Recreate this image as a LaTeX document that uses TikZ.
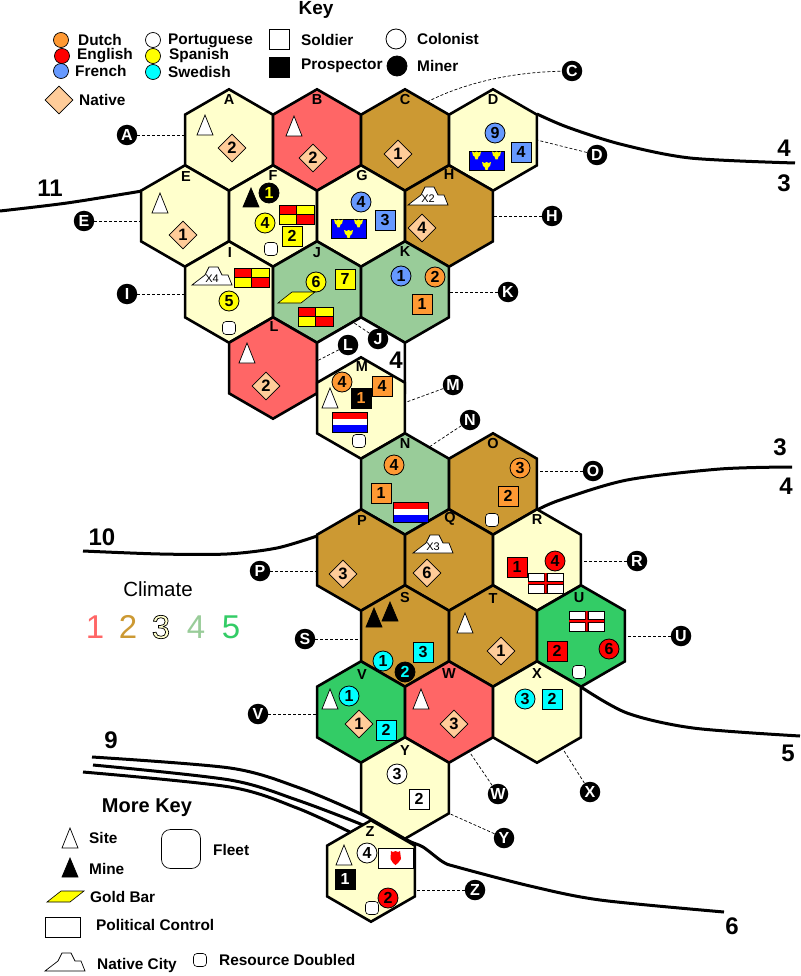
\documentclass[tikz,border=0pt]{standalone}
\usepackage{fontspec}
\setmainfont{Liberation Sans}
\usetikzlibrary{shapes.geometric}

\definecolor{cPale}{HTML}{FFFFCC}
\definecolor{cRed}{HTML}{FF6666}
\definecolor{cBrown}{HTML}{CC9933}
\definecolor{cSage}{HTML}{99CC99}
\definecolor{cGreen}{HTML}{33CC66}
\definecolor{cOrange}{HTML}{FF9933}
\definecolor{cBlue}{HTML}{6699FF}
\definecolor{cPeach}{HTML}{FFCC99}
\definecolor{cRoyal}{HTML}{0000FF}
\definecolor{cYellow}{HTML}{FFFF00}
\definecolor{cCyan}{HTML}{00FFFF}

\newcommand{\fsz}[1]{\fontsize{#1}{#1}\selectfont}

\tikzset{
  hex/.style={regular polygon, regular polygon sides=6, shape border rotate=30, draw, line width=2.6pt,
    minimum size=101.4pt, inner sep=0pt, outer sep=0pt, fill=#1},
  hexl/.style={inner sep=0pt, font=\fsz{14.5}\bfseries},
  tok/.style={circle, draw, line width=.8pt, fill=#1, minimum size=20pt, inner sep=0pt, font=\fsz{16}\bfseries},
  sq/.style={rectangle, draw, line width=.9pt, fill=#1, minimum size=20pt, inner sep=0pt, font=\fsz{16}\bfseries},
  nat/.style={diamond, draw, line width=.6pt, fill=cPeach, minimum size=28pt, inner sep=0pt, font=\fsz{16.5}\bfseries},
  res/.style={rectangle, rounded corners=3.5pt, draw, line width=.6pt, fill=white, minimum size=13pt, inner sep=0pt},
  tag/.style={circle, fill=black, text=white, minimum size=20.5pt, inner sep=0pt, font=\fsz{16}\bfseries},
  keytxt/.style={anchor=west, inner sep=0pt, font=\fsz{15.4}\bfseries},
  keydot/.style={circle, draw, line width=.7pt, fill=#1, minimum size=15pt, inner sep=0pt},
  big/.style={inner sep=0pt, font=\fsz{24}\bfseries},
  clim/.style={inner sep=0pt, text=#1, font=\fsz{33}},
  citytxt/.style={inner sep=0pt, font=\fsz{11}},
  lead/.style={line width=.7pt, dash pattern=on 3pt off 2pt},
  frontier/.style={line width=3pt, line join=round},
  site/.pic={\draw[fill=white, line width=.7pt] (-8,20) -- (0,0) -- (8,20) -- cycle;},
  mine/.pic={\draw[fill=black, line width=.7pt] (-8,19) -- (0,0) -- (8,19) -- cycle;},
  bar/.pic={\draw[fill=cYellow, line width=.6pt] (14,0) -- (37,0) -- (23,11) -- (0,11) -- cycle;},
  city/.pic={\draw[fill=white, line width=.7pt] (0,18) -- (13,8) -- (17,0) -- (26,0) -- (30,8) -- (36,8) -- (40,18) -- cycle;},
  spain/.pic={
    \fill[cYellow] (0,0) rectangle (35,19);
    \fill[red] (0,0) rectangle (17.5,9.5);
    \fill[red] (17.5,9.5) rectangle (35,19);
    \draw[line width=.9pt] (0,0) rectangle (35,19) (17.5,0) -- (17.5,19) (0,9.5) -- (35,9.5);},
  dutch/.pic={
    \fill[red] (0,0) rectangle (35,6.5);
    \fill[white] (0,6.5) rectangle (35,13);
    \fill[cRoyal] (0,13) rectangle (35,20);
    \draw[line width=.9pt] (0,0) rectangle (35,20);},
  england/.pic={
    \draw[fill=white, line width=.9pt] (0,0) rectangle (35,20);
    \draw[line width=4pt] (0,10) -- (35,10) (17.5,0) -- (17.5,20);
    \fill[red] (0,9) rectangle (35,11) (16.5,0) rectangle (18.5,20);},
  crown/.pic={\fill[cYellow] (-4.5,-4) -- (-2,-3) -- (0,-4) -- (2,-3) -- (4.5,-4) -- (3.5,0) -- (2,1) -- (1,4) -- (-1,4) -- (-2,1) -- (-3.5,0) -- cycle;},
  france/.pic={
    \draw[fill=cRoyal, line width=.9pt] (0,0) rectangle (35,19.5);
    \pic at (7.5,4.5) {crown};
    \pic at (27.5,4.5) {crown};
    \pic at (17.5,15) {crown};},
  fleet/.pic={
    \draw[fill=white, line width=.9pt] (0,0) rectangle (35,20);
    \fill[red] (13,3) -- (15,4) -- (17.5,3) -- (20,4) -- (22,3) -- (23,11) -- (20,15) -- (17.5,17) -- (15,15) -- (12.5,11) -- cycle;},
}

\begin{document}
\begin{tikzpicture}[x=1pt, y=-1pt]
  \useasboundingbox (0,0) rectangle (800,976);

  \draw[frontier] plot[smooth] coordinates {(537,114) (567,127) (620,144) (690,158) (795,163)};
  \draw[frontier] plot[smooth] coordinates {(0,211) (67,203) (142,191)};
  \draw[frontier] plot[smooth] coordinates {(537,510) (560,500) (627,480) (720,469) (792,467)};
  \draw[frontier] plot[smooth] coordinates {(83,551) (160,554) (227,554) (277,548) (317,536)};
  \draw[frontier] plot[smooth] coordinates {(581,687) (627,713) (693,728) (800,736)};
  \draw[frontier] plot[smooth] coordinates {(92,757) (230,768) (297,787) (363,815) (407,840) (423,847) (443,862) (457,867) (530,886) (600,900) (724,912)};
  \draw[frontier] plot[smooth] coordinates {(93,765) (230,780) (297,800) (363,825) (372,831)};
  \draw[frontier] plot[smooth] coordinates {(83,772) (230,787) (297,808) (350,832)};

  \node[hex=cPale] (hexA) at (229,140) {};
  \node[hex=cRed] (hexB) at (317,140) {};
  \node[hex=cBrown] (hexC) at (405,140) {};
  \node[hex=cPale] (hexD) at (493,140) {};
  \node[hex=cPale] (hexE) at (185,216) {};
  \node[hex=cPale] (hexF) at (273,216) {};
  \node[hex=cPale] (hexG) at (361,216) {};
  \node[hex=cBrown] (hexH) at (449,216) {};
  \node[hex=cPale] (hexI) at (229,292) {};
  \node[hex=cSage] (hexJ) at (317,292) {};
  \node[hex=cSage] (hexK) at (405,292) {};
  \node[hex=cRed] (hexL) at (273,368) {};
  \node[hex=white] (hexBlank) at (361,368) {};
  \node[hex=cPale] (hexM) at (361,408) {};
  \node[hex=cSage] (hexN) at (405,484) {};
  \node[hex=cBrown] (hexO) at (493,484) {};
  \node[hex=cBrown] (hexP) at (361,560) {};
  \node[hex=cBrown] (hexQ) at (449,560) {};
  \node[hex=cPale] (hexR) at (537,560) {};
  \node[hex=cBrown] (hexS) at (405,636) {};
  \node[hex=cBrown] (hexT) at (493,636) {};
  \node[hex=cGreen] (hexU) at (581,636) {};
  \node[hex=cGreen] (hexV) at (361,712) {};
  \node[hex=cRed] (hexW) at (449,712) {};
  \node[hex=cPale] (hexX) at (537,712) {};
  \node[hex=cPale] (hexY) at (405,788) {};
  \node[hex=cPale] (hexZ) at (371,871) {};

  \node[hexl] (tA) at (229,100) {A};
  \node[hexl] (tB) at (317,100) {B};
  \node[hexl] (tC) at (405,100) {C};
  \node[hexl] (tD) at (493,100) {D};
  \node[hexl] (tE) at (186,177) {E};
  \node[hexl] (tF) at (273,176) {F};
  \node[hexl] (tG) at (362,176) {G};
  \node[hexl] (tH) at (449,175) {H};
  \node[hexl] (tI) at (230,253) {I};
  \node[hexl] (tJ) at (317,253) {J};
  \node[hexl] (tK) at (405,252) {K};
  \node[hexl] (tL) at (274,327) {L};
  \node[hexl] (tM) at (362,367) {M};
  \node[hexl] (tN) at (405,444) {N};
  \node[hexl] (tO) at (493,444) {O};
  \node[hexl] (tP) at (362,521) {P};
  \node[hexl] (tQ) at (450,519) {Q};
  \node[hexl] (tR) at (537,520) {R};
  \node[hexl] (tS) at (405,598) {S};
  \node[hexl] (tT) at (493,599) {T};
  \node[hexl] (tU) at (579,598) {U};
  \node[hexl] (tV) at (362,675) {V};
  \node[hexl] (tW) at (449,674) {W};
  \node[hexl] (tX) at (537,674) {X};
  \node[hexl] (tY) at (405,751) {Y};
  \node[hexl] (tZ) at (370,832) {Z};

  \pic at (205,115) {site};
  \node[nat] (A1) at (232,148) {2};
  \pic at (294,116) {site};
  \node[nat] (B1) at (313,158) {2};
  \node[nat] (C1) at (398,154) {1};
  \node[tok=cBlue] (D1) at (495,133) {9};
  \node[sq=cBlue] (D2) at (521,152) {4};
  \pic at (469,151) {france};
  \pic at (160,193) {site};
  \node[nat] (E1) at (183,235) {1};
  \pic at (251,188) {mine};
  \node[tok=black, text=cYellow] (F1) at (269,193) {1};
  \node[tok=cYellow] (F2) at (265,223) {4};
  \pic at (279,205) {spain};
  \node[sq=cYellow] (F3) at (292,236) {2};
  \node[res] (F4) at (271,249) {};
  \node[tok=cBlue] (G1) at (361,202) {4};
  \node[sq=cBlue] (G2) at (385,220) {3};
  \pic at (331,219) {france};
  \pic at (408,187) {city};
  \node[citytxt] (H2) at (428,199) {X2};
  \node[nat] (H1) at (422,228) {4};
  \pic at (192,267) {city};
  \node[citytxt] (I2) at (212,279) {X4};
  \pic at (234,268) {spain};
  \node[tok=cYellow] (I1) at (229,301) {5};
  \node[res] (I3) at (229,328) {};
  \node[tok=cYellow] (J1) at (316,282) {6};
  \node[sq=cYellow] (J2) at (345,279) {7};
  \pic at (278,292) {bar};
  \pic at (298,307) {spain};
  \node[tok=cBlue] (K1) at (401,276) {1};
  \node[tok=cOrange] (K2) at (435,277) {2};
  \node[sq=cOrange] (K3) at (422,304) {1};
  \pic at (247,343) {site};
  \node[nat] (L1) at (266,386) {2};
  \node[tok=cOrange] (M1) at (342,382) {4};
  \node[sq=cOrange] (M2) at (382,386) {4};
  \pic at (330,388) {site};
  \node[sq=black, text=cOrange] (M3) at (361,398) {1};
  \pic at (332,412) {dutch};
  \node[res] (M4) at (359,441) {};
  \node[tok=cOrange] (N1) at (394,465) {4};
  \node[sq=cOrange] (N2) at (381,493) {1};
  \pic at (393,502) {dutch};
  \node[tok=cOrange] (O1) at (520,468) {3};
  \node[sq=cOrange] (O2) at (508,496) {2};
  \node[res] (O3) at (492,520) {};
  \node[nat] (P1) at (343,574) {3};
  \pic at (413,535) {city};
  \node[citytxt] (Q2) at (433,547) {X3};
  \node[nat] (Q1) at (427,573) {6};
  \node[sq=red] (R1) at (517,567) {1};
  \node[tok=red] (R2) at (555,561) {4};
  \pic at (528,573) {england};
  \pic at (374,608) {mine};
  \pic at (390,602) {mine};
  \node[tok=cCyan] (S1) at (383,661) {1};
  \node[tok=black, text=cCyan] (S2) at (405,672) {2};
  \node[sq=cCyan] (S3) at (423,652) {3};
  \pic at (465,613) {site};
  \node[nat] (T1) at (501,651) {1};
  \pic at (569,611) {england};
  \node[sq=red] (U1) at (557,651) {2};
  \node[tok=red] (U2) at (609,649) {6};
  \node[res] (U3) at (579,672) {};
  \pic at (330,689) {site};
  \node[tok=cCyan] (V1) at (349,696) {1};
  \node[nat] (V2) at (359,724) {1};
  \node[sq=cCyan] (V3) at (386,730) {2};
  \pic at (421,689) {site};
  \node[nat] (W1) at (454,724) {3};
  \node[tok=cCyan] (X1) at (525,699) {3};
  \node[sq=cCyan] (X2) at (552,699) {2};
  \node[tok=white] (Y1) at (397,774) {3};
  \node[sq=white] (Y2) at (419,799) {2};
  \pic at (344,845) {site};
  \node[tok=white] (Z1) at (367,853) {4};
  \pic at (378,848) {fleet};
  \node[sq=black, text=white] (Z2) at (345,879) {1};
  \node[res] (Z4) at (372,908) {};
  \node[tok=red] (Z3) at (388,898) {2};

  \node[tag] (tagA) at (127,135) {A};
  \node[tag] (tagC) at (572,71) {C};
  \node[tag] (tagD) at (597,155) {D};
  \node[tag] (tagE) at (84,221) {E};
  \node[tag] (tagH) at (552,216) {H};
  \node[tag] (tagI) at (127,294) {I};
  \node[tag] (tagJ) at (378,339) {J};
  \node[tag] (tagK) at (508,292) {K};
  \node[tag] (tagL) at (348,345) {L};
  \node[tag] (tagM) at (453,385) {M};
  \node[tag] (tagN) at (470,420) {N};
  \node[tag] (tagO) at (593,471) {O};
  \node[tag] (tagP) at (260,571) {P};
  \node[tag] (tagR) at (637,561) {R};
  \node[tag] (tagS) at (305,639) {S};
  \node[tag] (tagU) at (681,636) {U};
  \node[tag] (tagV) at (258,714) {V};
  \node[tag] (tagW) at (498,794) {W};
  \node[tag] (tagX) at (590,792) {X};
  \node[tag] (tagY) at (504,838) {Y};
  \node[tag] (tagZ) at (475,890) {Z};

  \draw[lead] (tagA) -- (tagA -| hexA.west);
  \draw[lead] (hexC.60) .. controls (470,80) and (520,72) .. (tagC);
  \draw[lead] (tagD) -- (hexD.east);
  \draw[lead] (tagE) -- (tagE -| hexE.west);
  \draw[lead] (tagH) -- (tagH -| hexH.east);
  \draw[lead] (tagI) -- (tagI -| hexI.west);
  \draw[lead] (tagJ) -- (hexJ.-40);
  \draw[lead] (tagK) -- (tagK -| hexK.east);
  \draw[lead] (tagL) -- (hexL.9);
  \draw[lead] (tagM) -- (hexM.7);
  \draw[lead] (tagN) -- (hexN.57);
  \draw[lead] (tagO) -- (tagO -| hexO.east);
  \draw[lead] (tagP) -- (tagP -| hexP.west);
  \draw[lead] (tagR) -- (tagR -| hexR.east);
  \draw[lead] (tagS) -- (tagS -| hexS.west);
  \draw[lead] (tagU) -- (tagU -| hexU.east);
  \draw[lead] (tagV) -- (tagV -| hexV.west);
  \draw[lead] (tagW) -- (hexW.-63);
  \draw[lead] (tagX) -- (hexX.-55);
  \draw[lead] (tagY) -- (hexY.-30);
  \draw[lead] (tagZ) -- (tagZ -| hexZ.east);

  \node[big] (n11) at (50,188) {11};
  \node[big] (n10) at (102,537) {10};
  \node[big] (n9) at (111,740) {9};
  \node[big] (n6) at (732,926) {6};
  \node[big] (n5) at (788,753) {5};
  \node[big] (n4a) at (784,148) {4};
  \node[big] (n3a) at (784,183) {3};
  \node[big] (n3b) at (780,447) {3};
  \node[big] (n4b) at (786,486) {4};
  \node[big] (n4c) at (396,360) {4};

  \node[inner sep=0pt, font=\fsz{19}\bfseries] (keyTitle) at (316,10) {Key};
  \node[keydot=cOrange] (kDutch) at (61,40) {};
  \node[keydot=red] (kEnglish) at (62,56) {};
  \node[keydot=cBlue] (kFrench) at (61,71) {};
  \node[keydot=white] (kPort) at (153,40) {};
  \node[keydot=cYellow] (kSpan) at (153,56) {};
  \node[keydot=cCyan] (kSwed) at (153,72) {};
  \node[keytxt] (lDutch) at (78,40) {Dutch};
  \node[keytxt] (lEnglish) at (77,56) {English};
  \node[keytxt] (lFrench) at (75,71) {French};
  \node[keytxt] (lPort) at (168,41) {Portuguese};
  \node[keytxt] (lSpan) at (169,56) {Spanish};
  \node[keytxt] (lSwed) at (168,72) {Swedish};
  \node[sq=white] (kSold) at (279,39) {};
  \node[sq=black] (kPros) at (279,67) {};
  \node[tok=white] (kCol) at (396,39) {};
  \node[tok=black] (kMin) at (397,66) {};
  \node[keytxt] (lSold) at (301,40) {Soldier};
  \node[keytxt] (lPros) at (301,66) {Prospector};
  \node[keytxt] (lCol) at (417,39) {Colonist};
  \node[keytxt] (lMin) at (417,66) {Miner};
  \node[nat] (kNat) at (59,100) {};
  \node[keytxt] (lNat) at (79,100) {Native};

  \node[inner sep=0pt, font=\fsz{20.5}] (climTitle) at (158,589) {Climate};
  \node[clim=cRed] (c1) at (95,627) {1};
  \node[clim=cBrown] (c2) at (128,627) {2};
  \node[clim=black] (c3) at (161,627) {\special{pdf:code q 1 1 0.8 rg 0 0 0 RG 0.7 w 2 Tr}3\special{pdf:code Q}};
  \node[clim=cSage] (c4) at (196,627) {4};
  \node[clim=cGreen] (c5) at (231,627) {5};

  \node[inner sep=0pt, font=\fsz{20}\bfseries] (moreTitle) at (147,808) {More Key};
  \pic at (70,828) {site};
  \node[keytxt] (lSite) at (89,838) {Site};
  \pic at (70,858) {mine};
  \node[keytxt] (lMine) at (89,869) {Mine};
  \pic at (47,891) {bar};
  \node[keytxt] (lBar) at (90,897) {Gold Bar};
  \draw[line width=.7pt] (45,917) rectangle (80,937);
  \node[keytxt] (lPol) at (96,925) {Political Control};
  \pic at (45,953) {city};
  \node[keytxt] (lCity) at (97,966) {Native City};
  \node[res] (kRes) at (200,960) {};
  \node[keytxt] (lRes) at (219,960) {Resource Doubled};
  \node[rectangle, rounded corners=9pt, draw, line width=.7pt, minimum size=39pt, inner sep=0pt] (kFleet) at (181,849) {};
  \node[keytxt] (lFleet) at (213,850) {Fleet};
\end{tikzpicture}
\end{document}
